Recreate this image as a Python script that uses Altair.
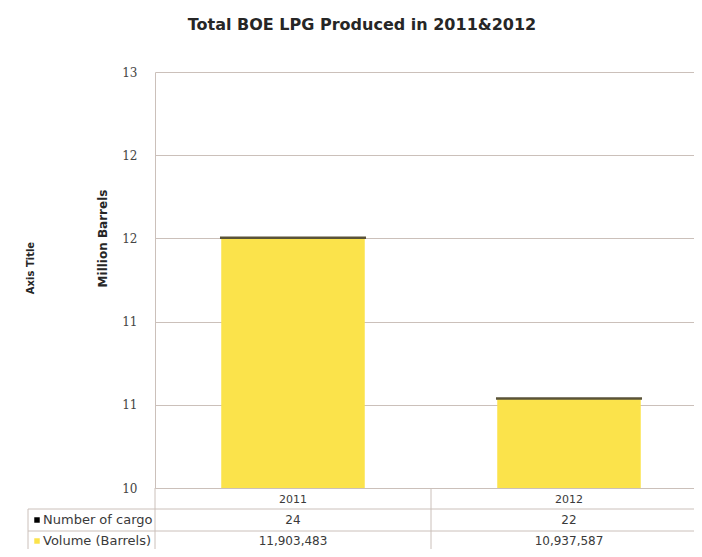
import altair as alt
import pandas as pd

# ---- data ----
years = ["2011", "2012"]
volume = [11903483, 10937587]          # Volume (Barrels)
cargo = [24, 22]                       # Number of cargo
series_names = ["Number of cargo", "Volume (Barrels)"]
series_colors = ["#000000", "#FBE34B"]
y_ticks = [10400000, 10900000, 11400000, 11900000, 12400000, 12900000]
title_text = "Total BOE LPG Produced in 2011&2012"
y_title = "Million Barrels"
extra_title = "Axis Title"

W, H = 539, 416
X_RANGE = 552
GRID = "#cbc0ba"
FONT = "DejaVu Sans"
TXT = "#3a3a3a"
P_IN, P_OUT = 0.48, 0.24

df = pd.DataFrame({"year": years, "volume": volume, "cargo": cargo})
one = pd.DataFrame({"k": [0]})

xscale = alt.Scale(domain=years, range=[0, X_RANGE], paddingInner=P_IN, paddingOuter=P_OUT)
yscale = alt.Scale(domain=[y_ticks[0], y_ticks[-1]], zero=False, nice=False)

x_axis = alt.Axis(title=None, labelAngle=0, ticks=False, domainColor=GRID,
                  labelPadding=5, labelFont=FONT, labelFontSize=11,
                  labelColor=TXT, grid=False)
y_axis = alt.Axis(values=y_ticks,
                  labelExpr="format(datum.value / 1000000, '.0f')",
                  ticks=False, labelPadding=18, domainColor=GRID,
                  gridColor=GRID, labelFont="DejaVu Serif", labelFontSize=12,
                  labelColor="#444444", title=y_title, titleX=-53, titleY=166,
                  titleAngle=270, titleBaseline="middle", titleFont=FONT,
                  titleFontSize=12, titleFontWeight="bold", titleColor="#262626")

X = alt.X("year:N", scale=xscale, axis=x_axis)

base = alt.Chart(df)

bars = base.mark_bar(clip=True, color=series_colors[1]).encode(
    x=X,
    y=alt.Y("volume:Q", scale=yscale, axis=y_axis),
)

cargo_bar = base.transform_calculate(top="datum.volume + datum.cargo").mark_bar(
    color=series_colors[0], stroke="#5a5338", strokeWidth=2.5
).encode(
    x=X,
    y=alt.Y("volume:Q", scale=yscale, axis=y_axis),
    y2="top:Q",
)

# table column separators at the start of each category step
step = X_RANGE / len(years)
seps = base.mark_rule(color=GRID, strokeWidth=1, xOffset=-(P_IN / 2) * step).encode(
    x=alt.X("year:N", scale=xscale, axis=x_axis, bandPosition=0),
    y=alt.value(H), y2=alt.value(H + 61),
)

row_y = [H + 32, H + 53]
layers = [bars, cargo_bar, seps]

# horizontal table lines and left border
for yy in [H + 21, H + 43]:
    layers.append(alt.Chart(one).mark_rule(color=GRID).encode(
        x=alt.value(-127), x2=alt.value(560), y=alt.value(yy)))
layers.append(alt.Chart(one).mark_rule(color=GRID).encode(
    x=alt.value(-127), y=alt.value(H + 21), y2=alt.value(H + 61)))

# row labels with legend keys
for i, (name, col) in enumerate(zip(series_names, series_colors)):
    sd = pd.DataFrame({"series": [name]})
    layers.append(alt.Chart(sd).mark_square(size=30, color=col, opacity=1).encode(
        x=alt.value(-118), y=alt.value(row_y[i])))
    layers.append(alt.Chart(sd).mark_text(align="left", baseline="middle",
                                          font=FONT, fontSize=13, color=TXT).encode(
        x=alt.value(-112), y=alt.value(row_y[i]), text="series:N"))

# table values
layers.append(base.mark_text(baseline="middle", font=FONT, fontSize=12, color=TXT).encode(
    x=X, y=alt.value(row_y[0]), text=alt.Text("cargo:Q", format=",")))
layers.append(base.mark_text(baseline="middle", font=FONT, fontSize=12, color=TXT).encode(
    x=X, y=alt.value(row_y[1]), text=alt.Text("volume:Q", format=",")))

# titles
layers.append(alt.Chart(pd.DataFrame({"t": [title_text]})).mark_text(
    align="center", baseline="middle", font=FONT, fontSize=16, fontWeight="bold",
    color="#262626").encode(x=alt.value(207), y=alt.value(-47), text="t:N"))
layers.append(alt.Chart(pd.DataFrame({"t": [extra_title]})).mark_text(
    align="center", baseline="middle", font=FONT, fontSize=10, fontWeight="bold",
    angle=270, color="#262626").encode(x=alt.value(-124), y=alt.value(196), text="t:N"))

chart = alt.layer(*layers).properties(
    width=W, height=H,
    padding={"left": 147, "top": 64, "right": 0, "bottom": 61},
    autosize=alt.AutoSizeParams(type="none"),
    background="white",
).configure_view(stroke=None)

chart.save("out.html", embed_options={"renderer": "svg", "actions": False})
